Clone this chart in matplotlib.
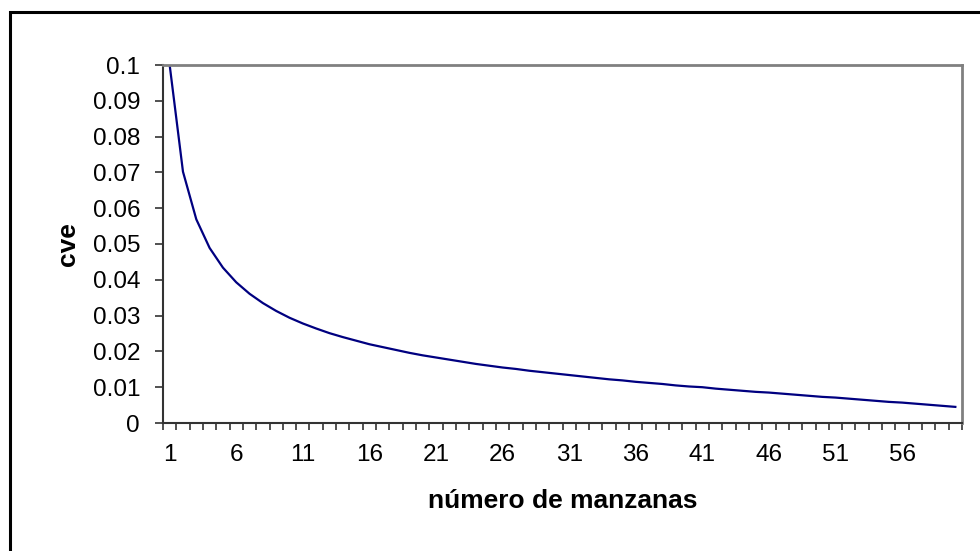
import matplotlib
matplotlib.use("Agg")
import matplotlib.pyplot as plt
from matplotlib.patches import Rectangle

# number of blocks (categories) and cve
manzanas = list(range(1, 61))
cve = [0.1000, 0.0702, 0.0569, 0.0489, 0.0434, 0.0393, 0.0361, 0.0335, 0.0313, 0.0294,
       0.0278, 0.0264, 0.0251, 0.0240, 0.0230, 0.0220, 0.0212, 0.0204, 0.0196, 0.0189,
       0.0183, 0.0177, 0.0171, 0.0165, 0.0160, 0.0155, 0.0151, 0.0146, 0.0142, 0.0138,
       0.0134, 0.0130, 0.0126, 0.0122, 0.0119, 0.0115, 0.0112, 0.0109, 0.0105, 0.0102,
       0.0100, 0.0096, 0.0093, 0.0090, 0.0087, 0.0085, 0.0082, 0.0079, 0.0076, 0.0073,
       0.0071, 0.0068, 0.0065, 0.0062, 0.0059, 0.0057, 0.0054, 0.0051, 0.0048, 0.0045]
x_labels = [str(v) for v in range(1, 60, 5)]
y_ticks = [i / 100 for i in range(0, 11)]
y_labels = ['0'] + ['%g' % v for v in y_ticks[1:]]

plt.rcParams['font.family'] = ['Liberation Sans', 'DejaVu Sans']

fig = plt.figure(figsize=(9.8, 5.51), dpi=100)
W, H = 980, 551
ax = fig.add_axes([163 / W, 1 - 423 / H, (962 - 163) / W, (423 - 65) / H])

ax.plot(manzanas, cve, color='#000080', lw=1.6)

ax.set_xlim(0.5, 60.5)
ax.set_ylim(0, 0.1)

# tick marks between categories, labels on the category centres
ax.set_xticks([i + 0.5 for i in range(0, 61)])
ax.set_xticklabels([])
ax.set_xticks(list(range(1, 60, 5)), minor=True)
ax.set_xticklabels(x_labels, minor=True, fontsize=17.5)
ax.tick_params(axis='x', which='major', length=5, width=1.2, color='#333333', direction='out')
ax.tick_params(axis='x', which='minor', length=0, pad=15)

ax.set_yticks(y_ticks)
ax.set_yticklabels(y_labels, fontsize=17.5)
ax.tick_params(axis='y', length=5.5, width=1.2, color='#333333', direction='out', pad=11)

for side in ['left', 'bottom']:
    ax.spines[side].set_color('#333333')
    ax.spines[side].set_linewidth(1.5)
for side in ['top', 'right']:
    ax.spines[side].set_color('#808080')
    ax.spines[side].set_linewidth(2)

ax.set_xlabel('número de manzanas', fontsize=19, fontweight='bold', labelpad=17)
ax.set_ylabel('cve', fontsize=19, fontweight='bold', labelpad=9)

# outer chart border (runs off the right and bottom edge)
fig.patches.append(Rectangle((10 / W, -0.05), 1.2, 1 - 12 / H + 0.05,
                             transform=fig.transFigure, fill=False,
                             edgecolor='black', lw=2.2, clip_on=False))

fig.savefig('out.png', dpi=100)
